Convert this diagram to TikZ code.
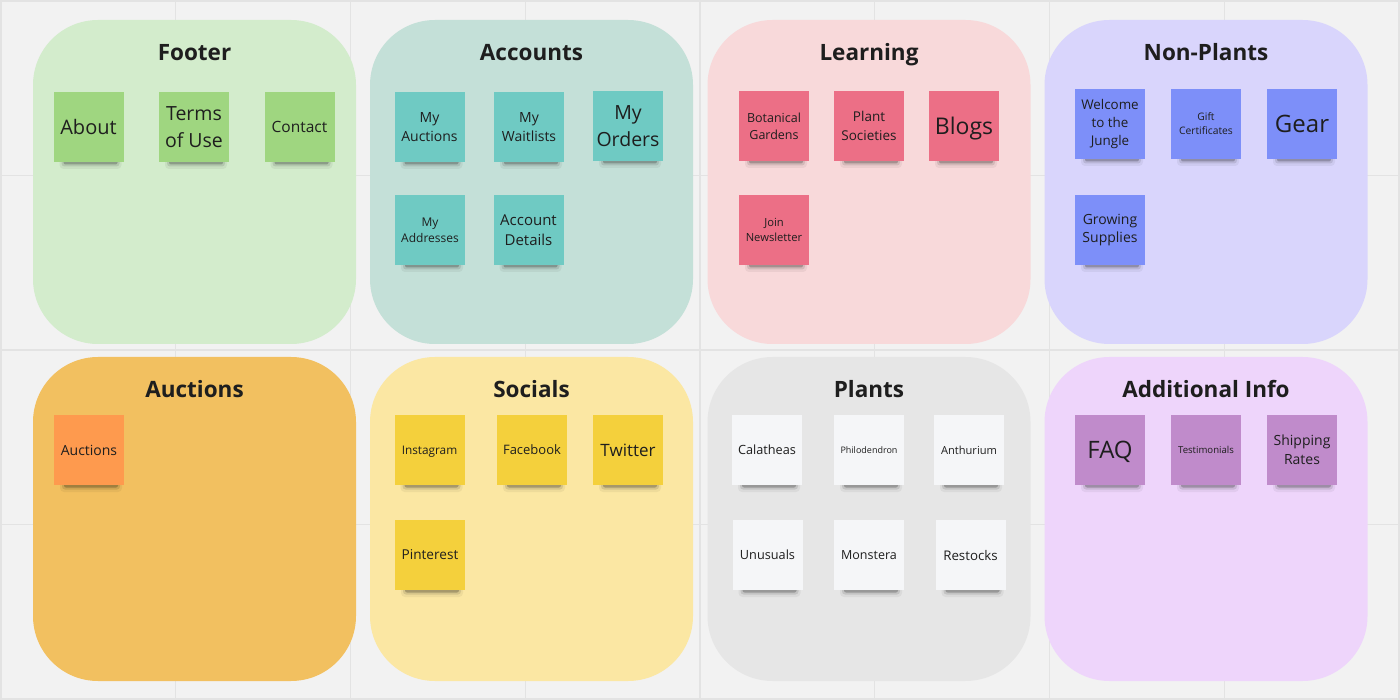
\documentclass[tikz,border=0pt]{standalone}
\usepackage{fontspec}
\setmainfont{Open Sans}
\definecolor{canvas}{HTML}{F2F2F2}
\definecolor{gridline}{HTML}{E3E3E3}
\definecolor{inkdark}{HTML}{1E1E1E}
% area colours
\definecolor{areaFooter}{HTML}{D3ECCC}
\definecolor{areaAccounts}{HTML}{C4E0D8}
\definecolor{areaLearning}{HTML}{F8D9DA}
\definecolor{areaNonPlants}{HTML}{D9D5FC}
\definecolor{areaAuctions}{HTML}{F2C060}
\definecolor{areaSocials}{HTML}{FBE7A3}
\definecolor{areaPlants}{HTML}{E6E6E6}
\definecolor{areaInfo}{HTML}{EED5FB}
% sticky note colours
\definecolor{noteGreen}{HTML}{9FD680}
\definecolor{noteTeal}{HTML}{6FCAC3}
\definecolor{notePink}{HTML}{EC6F86}
\definecolor{noteBlue}{HTML}{7D8FF9}
\definecolor{noteOrange}{HTML}{FE9A4E}
\definecolor{noteYellow}{HTML}{F4D03C}
\definecolor{noteWhite}{HTML}{F5F6F8}
\definecolor{notePurple}{HTML}{C08BCB}
% sticky note: [extra options], name, x, y, fill, font size, text
\newcommand\stickynote[7][]{%
  \fill[black,opacity=0.05,rounded corners=4pt] (#3-29,#4+30) rectangle (#3+33,#4+42);
  \fill[black,opacity=0.10,rounded corners=3pt] (#3-27,#4+31) rectangle (#3+31,#4+39.5);
  \fill[black,opacity=0.22,rounded corners=2pt] (#3-25,#4+32) rectangle (#3+29,#4+37.5);
  \node[notebox,fill=#5,font=\fontsize{#6pt}{\dimexpr #6pt*135/100\relax}\selectfont,#1] (#2) at (#3,#4) {#7};
}
\begin{document}
\begin{tikzpicture}[x=1pt,y=-1pt,
  areabox/.style={rectangle,rounded corners=65pt,minimum width=323pt,minimum height=324pt,inner sep=0pt,draw=none},
  areatitle/.style={font=\fontsize{22.5pt}{27pt}\selectfont\bfseries,text=inkdark,inner sep=0pt,anchor=base},
  notebox/.style={rectangle,minimum width=70pt,minimum height=70pt,inner sep=0pt,align=center,text=inkdark},
  oneline/.style={text depth=0pt}]
% canvas and grid
\useasboundingbox (0,0) rectangle (1400,700);
\fill[canvas] (0,0) rectangle (1400,700);
\foreach \i in {0,...,8} {
  \draw[gridline,line width=1.3pt] ({1+174.75*\i},0) -- ({1+174.75*\i},700);
}
\foreach \j in {0,...,4} {
  \draw[gridline,line width=1.3pt] (0,{1+174.5*\j}) -- (1400,{1+174.5*\j});
}
% areas, top row
\node[areabox,fill=areaFooter]    (footer)    at (194.5,182) {};
\node[areabox,fill=areaAccounts]  (accounts)  at (531.5,182) {};
\node[areabox,fill=areaLearning]  (learning)  at (869,182) {};
\node[areabox,fill=areaNonPlants] (nonplants) at (1206,182) {};
% areas, bottom row
\node[areabox,fill=areaAuctions]  (auctions)  at (194.5,519) {};
\node[areabox,fill=areaSocials]   (socials)   at (531.5,519) {};
\node[areabox,fill=areaPlants]    (plants)    at (869,519) {};
\node[areabox,fill=areaInfo]      (info)      at (1206,519) {};
% titles
\node[areatitle] (footerT)    at (194.5,60.5) {Footer};
\node[areatitle] (accountsT)  at (531.5,60.5) {Accounts};
\node[areatitle] (learningT)  at (869,60.5) {Learning};
\node[areatitle] (nonplantsT) at (1206,60.5) {Non-Plants};
\node[areatitle] (auctionsT)  at (194.5,397.5) {Auctions};
\node[areatitle] (socialsT)   at (531.5,397.5) {Socials};
\node[areatitle] (plantsT)    at (869,397.5) {Plants};
\node[areatitle] (infoT)      at (1206,397.5) {Additional Info};
% Footer
\stickynote[oneline]{about}{88.5}{127}{noteGreen}{20}{About}
\stickynote{terms}{194}{127}{noteGreen}{19.5}{Terms\\of Use}
\stickynote[oneline]{contact}{299.5}{127}{noteGreen}{15.5}{Contact}
% Accounts
\stickynote{myauctions}{429.5}{127}{noteTeal}{14}{My\\Auctions}
\stickynote{mywaitlists}{529}{127}{noteTeal}{14}{My\\Waitlists}
\stickynote{myorders}{628}{126}{noteTeal}{19.5}{My\\Orders}
\stickynote{myaddresses}{430}{230}{noteTeal}{12}{My\\Addresses}
\stickynote{accountdetails}{528.5}{230}{noteTeal}{15}{Account\\Details}
% Learning
\stickynote{botanical}{774}{126}{notePink}{12.5}{Botanical\\Gardens}
\stickynote{societies}{869}{126}{notePink}{13.5}{Plant\\Societies}
\stickynote[oneline]{blogs}{964}{126}{notePink}{23}{Blogs}
\stickynote{newsletter}{774}{230}{notePink}{11.2}{Join\\Newsletter}
% Non-Plants
\stickynote{welcome}{1110}{124}{noteBlue}{13.4}{Welcome\\to the\\Jungle}
\stickynote{gift}{1206}{124}{noteBlue}{10.3}{Gift\\Certificates}
\stickynote[oneline]{gear}{1302}{124}{noteBlue}{24}{Gear}
\stickynote{growing}{1110}{230}{noteBlue}{14}{Growing\\Supplies}
% Auctions
\stickynote[oneline]{auctionsnote}{89}{450}{noteOrange}{14}{Auctions}
% Socials
\stickynote[oneline]{instagram}{429.5}{450}{noteYellow}{11.8}{Instagram}
\stickynote[oneline]{facebook}{532}{450}{noteYellow}{13}{Facebook}
\stickynote[oneline]{twitter}{628}{450}{noteYellow}{17}{Twitter}
\stickynote[oneline]{pinterest}{430}{555}{noteYellow}{13.6}{Pinterest}
% Plants
\stickynote[oneline]{calatheas}{767}{450}{noteWhite}{12.7}{Calatheas}
\stickynote[oneline]{philodendron}{869}{450}{noteWhite}{9}{Philodendron}
\stickynote[oneline]{anthurium}{969}{450}{noteWhite}{11.1}{Anthurium}
\stickynote[oneline]{unusuals}{767.5}{555}{noteWhite}{12.7}{Unusuals}
\stickynote[oneline]{monstera}{869}{555}{noteWhite}{12.5}{Monstera}
\stickynote[oneline]{restocks}{970.5}{555}{noteWhite}{13.3}{Restocks}
% Additional Info
\stickynote[oneline]{faq}{1110}{450}{notePurple}{24}{FAQ}
\stickynote[oneline]{testimonials}{1206}{450}{notePurple}{9.6}{Testimonials}
\stickynote{shipping}{1302}{450}{notePurple}{14}{Shipping\\Rates}
\end{tikzpicture}
\end{document}
